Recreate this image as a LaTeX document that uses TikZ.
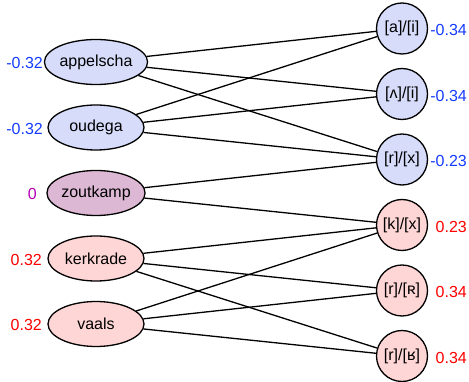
\documentclass[tikz,border=0pt]{standalone}
\usepackage{fontspec}
\setmainfont{Liberation Sans}
\usetikzlibrary{shapes.geometric}
\definecolor{bluefill}{RGB}{214,220,250}
\definecolor{redfill}{RGB}{255,214,214}
\definecolor{purpfill}{RGB}{221,184,212}
\definecolor{bluetext}{RGB}{20,60,255}
\definecolor{redtext}{RGB}{255,0,0}
\definecolor{purptext}{RGB}{180,0,180}
\begin{document}
\begin{tikzpicture}[x=1pt,y=-1pt,
  every node/.style={font=\fontsize{16}{19}\selectfont},
  place/.style={ellipse,draw,line width=1.3pt,minimum width=96pt,minimum height=45pt,inner sep=0pt},
  sound/.style={circle,draw,line width=1.3pt,minimum size=51pt,inner sep=0pt},
  bluef/.style={fill=bluefill},
  redf/.style={fill=redfill},
  purpf/.style={fill=purpfill},
  link/.style={line width=1.3pt},
  lval/.style={anchor=east,inner sep=0pt},
  rval/.style={anchor=east,inner sep=0pt},
  ]
\useasboundingbox (0,0) rectangle (469,382);
% left places
\node[place,bluef] (app) at (96,62) {appelscha};
\node[place,bluef] (oud) at (96,127.5) {oudega};
\node[place,purpf] (zou) at (96,193) {zoutkamp};
\node[place,redf] (ker) at (96,258.5) {kerkrade};
\node[place,redf] (vaa) at (96,324) {vaals};
% right sounds
\node[sound,bluef] (ai) at (402,28.5) {[a]/[i]};
\node[sound,bluef] (vi) at (402,94) {[ʌ]/[i]};
\node[sound,bluef] (rx) at (402,159.5) {[r]/[x]};
\node[sound,redf] (kx) at (402,225) {[k]/[x]};
\node[sound,redf] (rR) at (402,290.5) {[r]/[ʀ]};
\node[sound,redf] (rg) at (402,356) {[r]/[ʁ]};
% connectors
\draw[link] (app) -- (ai);
\draw[link] (app) -- (vi);
\draw[link] (app) -- (rx);
\draw[link] (oud) -- (ai);
\draw[link] (oud) -- (vi);
\draw[link] (oud) -- (rx);
\draw[link] (zou) -- (rx);
\draw[link] (zou) -- (kx);
\draw[link] (ker) -- (kx);
\draw[link] (ker) -- (rR);
\draw[link] (ker) -- (rg);
\draw[link] (vaa) -- (kx);
\draw[link] (vaa) -- (rR);
\draw[link] (vaa) -- (rg);
% values left
\node[lval,text=bluetext] (vapp) at (43,63) {-0.32};
\node[lval,text=bluetext] (voud) at (43,128.5) {-0.32};
\node[lval,text=purptext] (vzou) at (37,194) {0};
\node[lval,text=redtext] (vker) at (42,259.5) {0.32};
\node[lval,text=redtext] (vvaa) at (42,325) {0.32};
% values right
\node[rval,text=bluetext] (vai) at (467,30) {-0.34};
\node[rval,text=bluetext] (vvi) at (467,95.5) {-0.34};
\node[rval,text=bluetext] (vrx) at (467,161) {-0.23};
\node[rval,text=redtext] (vkx) at (467,226.5) {0.23};
\node[rval,text=redtext] (vrR) at (467,292) {0.34};
\node[rval,text=redtext] (vrg) at (467,357.5) {0.34};
\end{tikzpicture}
\end{document}
